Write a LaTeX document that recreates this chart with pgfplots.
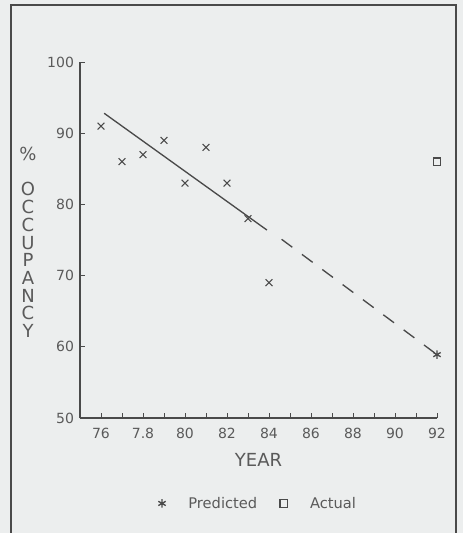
\documentclass[border=0pt]{standalone}
\usepackage{pgfplots}
\pgfplotsset{compat=1.18}
\usepackage{fontspec}
\setmainfont{DejaVu Sans}
\definecolor{bg}{HTML}{ECEEEE}
\definecolor{ink}{HTML}{4A4A4A}
\definecolor{txt}{HTML}{5A5A5A}
\begin{document}
\begin{tikzpicture}
\useasboundingbox (0,0) rectangle (347.25pt,399.75pt);
\fill[bg] (0,0) rectangle (347.25pt,399.75pt);
\draw[ink, line width=1.6pt] (8.25pt,-5pt) -- (8.25pt,396pt) -- (342pt,396pt) -- (342pt,-5pt);
\begin{axis}[
  at={(60pt,86.25pt)}, anchor=south west,
  scale only axis, width=267.75pt, height=267pt,
  xmin=75, xmax=92, ymin=50, ymax=100,
  axis lines=left, axis line style={-, ink, line width=0.9pt},
  tick align=inside, major tick length=4pt,
  tick style={ink, line width=0.7pt},
  xtick={76,...,92},
  xticklabels={76,,7.8,,80,,82,,84,,86,,88,,90,,92},
  ytick={50,60,...,100},
  ticklabel style={font=\fontsize{10.5}{12}\selectfont, text=txt},
  /pgf/number format/assume math mode=true,
  xticklabel style={yshift=-4pt},
  yticklabel style={xshift=-1pt},
  clip=false,
  legend style={draw=none, fill=none, at={(0.5,-0.24)}, anchor=center,
    font=\fontsize{11}{13}\selectfont, text=txt, column sep=15pt},
  legend columns=2,
]
\addplot[ink, only marks, mark=x, mark size=3.6pt, line width=0.8pt, forget plot]
  coordinates {(76,91) (77,86) (78,87) (79,89) (80,83) (81,88) (82,83) (83,78) (84,69)};
\addplot[ink, line width=1pt, forget plot] coordinates {(76.15,92.8) (83.9,76.4)};
\addplot[ink, line width=1pt, dash pattern=on 10pt off 9pt, forget plot] coordinates {(84.6,75.1) (92,58.9)};
\addplot[ink, only marks, mark=asterisk, mark size=3.2pt, line width=1pt] coordinates {(92,58.9)};
\addlegendentry{Predicted}
\addplot[ink, only marks, mark=square, mark size=2.8pt, line width=0.9pt] coordinates {(92,86)};
\addlegendentry{Actual}
\node[text=txt, font=\fontsize{13.5}{16}\selectfont] at (axis description cs:0.5,-0.118) {YEAR};
\end{axis}
\node[text=txt, align=center, font=\fontsize{13.5}{13.3}\selectfont] at (21pt,218pt)
  {\%\\[13.3pt]O\\C\\C\\U\\P\\A\\N\\C\\Y};
\end{tikzpicture}
\end{document}
